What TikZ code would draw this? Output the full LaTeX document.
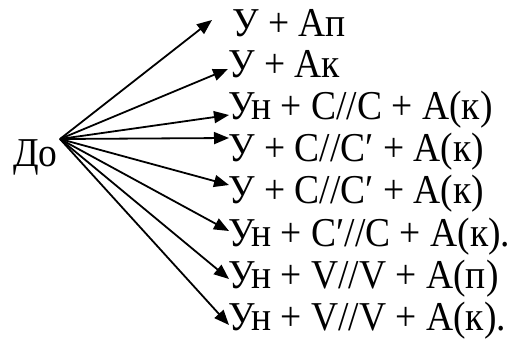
\documentclass[tikz,border=0pt]{standalone}
\usepackage{fontspec}
\usepackage{graphicx}
\newfontfamily\tms{Liberation Serif}
\newcommand{\lt}[1]{\scalebox{0.915}[1]{#1}}
\usetikzlibrary{arrows.meta}
\begin{document}
\begin{tikzpicture}[x=1pt,y=-1pt,
  lbl/.style={anchor=base west,inner sep=0pt,font=\tms\fontsize{41}{44}\selectfont},
  arr/.style={line width=1.8pt,-{Triangle[length=15pt,width=12pt]}}]
\useasboundingbox (0,0) rectangle (512,340);
\node[lbl] (src) at (13,166) {\lt{До}};
\coordinate (o) at (60,139);
\node[lbl] (r1) at (232,36) {\lt{У + Ап}};
\node[lbl] (r2) at (228,77) {\lt{У + Ак}};
\node[lbl] (r3) at (228,119) {\lt{Ун + С//С + А(к)}};
\node[lbl] (r4) at (228,161) {\lt{У + С//С′ + А(к)}};
\node[lbl] (r5) at (228,203) {\lt{У + С//С′ + А(к)}};
\node[lbl] (r6) at (228,246) {\lt{Ун + С′//С + А(к).}};
\node[lbl] (r7) at (228,288) {\lt{Ун + V//V + А(п)}};
\node[lbl] (r8) at (228,330) {\lt{Ун + V//V + А(к).}};
\coordinate (t1) at (212,20);
\coordinate (t2) at (228,69);
\coordinate (t3) at (229,115);
\coordinate (t4) at (229,138);
\coordinate (t5) at (229,185);
\coordinate (t6) at (229,231);
\coordinate (t7) at (229,279);
\coordinate (t8) at (229,325);
\foreach \i in {1,...,8}{\draw[arr] (o) -- (t\i);}
\end{tikzpicture}
\end{document}
